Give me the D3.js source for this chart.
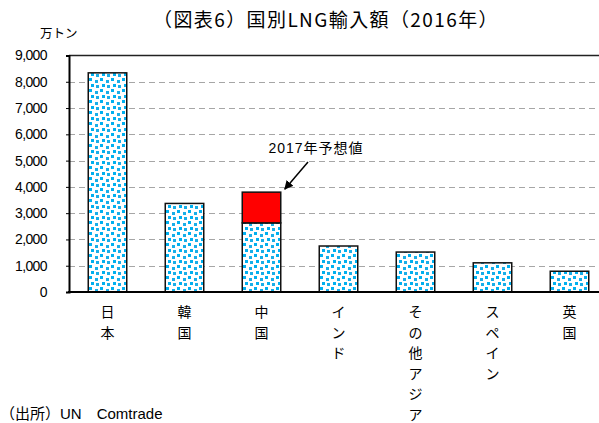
<!DOCTYPE html>
<head>
    <meta charset="utf-8">
    <script src="https://d3js.org/d3.v7.min.js"></script>
</head>
<style>
body {
  margin: 0;
  background: #fff;
  font-family: "Liberation Sans", Arial, "Noto Sans CJK JP", sans-serif;
}
</style>
<body>
    <svg></svg>
</body>

<script>
    // data
    var countries = ["日本", "韓国", "中国", "インド", "その他アジア", "スペイン", "英国"];
    var values2016 = [8340, 3370, 2630, 1750, 1520, 1110, 790];
    var china2017 = 3800;
    var yTicks = [0, 1000, 2000, 3000, 4000, 5000, 6000, 7000, 8000, 9000];

    var width = 599, height = 423;
    var plotLeft = 69, plotTop = 55.5, plotBottom = 292;
    var band = 77;

    var svg = d3.select("svg").attr("width", width).attr("height", height);

    // dotted fill
    var defs = svg.append("defs");
    var pat = defs.append("pattern")
        .attr("id", "dots")
        .attr("patternUnits", "userSpaceOnUse")
        .attr("width", 11).attr("height", 11);
    pat.append("rect").attr("width", 11).attr("height", 11).attr("fill", "#fff");
    var dotPos = [[1, 1], [7, 3], [3, 7], [8, 8]];
    dotPos.forEach(function (p, i) {
        pat.append("rect")
            .attr("x", p[0]).attr("y", p[1])
            .attr("width", 3).attr("height", 3)
            .attr("fill", i % 2 ? "#19aee8" : "#00b0f0");
    });

    var x = d3.scaleBand()
        .domain(countries)
        .range([plotLeft, plotLeft + band * countries.length])
        .paddingInner(0.5).paddingOuter(0.25);

    var y = d3.scaleLinear().domain([0, 9000]).range([plotBottom, plotTop]);

    // title
    svg.append("text")
        .attr("x", 326).attr("y", 27)
        .attr("text-anchor", "middle")
        .style("font-size", "19px")
        .style("letter-spacing", "1.4px")
        .style("font-family", "'Noto Sans CJK JP', sans-serif")
        .text("（図表6）国別LNG輸入額（2016年）");

    svg.append("text")
        .attr("x", 40).attr("y", 38)
        .style("font-size", "12.5px")
        .style("font-family", "'Noto Sans CJK JP', sans-serif")
        .text("万トン");

    // gridlines
    svg.append("g").selectAll("line")
        .data(yTicks.filter(function (d) { return d > 0 && d < 9000; }))
        .enter().append("line")
        .attr("x1", plotLeft).attr("x2", width)
        .attr("y1", function (d) { return Math.round(y(d)) + 0.5; })
        .attr("y2", function (d) { return Math.round(y(d)) + 0.5; })
        .attr("stroke", "#a6a6a6")
        .attr("stroke-width", 1)
        .attr("stroke-dasharray", "6,4");

    // top border
    svg.append("line")
        .attr("x1", plotLeft).attr("x2", width)
        .attr("y1", y(9000)).attr("y2", y(9000))
        .attr("stroke", "#222").attr("stroke-width", 1.5);

    // y axis
    var yAxis = d3.axisLeft(y)
        .tickValues(yTicks)
        .tickSize(3)
        .tickFormat(d3.format(","));
    var ya = svg.append("g")
        .attr("transform", "translate(" + plotLeft + ",0)")
        .call(yAxis);
    ya.select(".domain").attr("stroke", "#000").attr("stroke-width", 2);
    ya.selectAll(".tick line").attr("stroke", "#000");
    ya.selectAll(".tick text")
        .attr("x", -22)
        .style("font-size", "14px")
        .style("letter-spacing", "-0.6px")
        .style("font-family", "'Liberation Sans', Arial, sans-serif")
        .attr("fill", "#000");

    // bars
    svg.append("g").selectAll("rect")
        .data(values2016)
        .enter().append("rect")
        .attr("x", function (d, i) { return x(countries[i]); })
        .attr("width", x.bandwidth())
        .attr("y", function (d) { return y(d); })
        .attr("height", function (d) { return y(0) - y(d); })
        .attr("fill", "url(#dots)")
        .attr("stroke", "#111")
        .attr("stroke-width", 1.5);

    // china 2017 forecast
    svg.append("rect")
        .attr("x", x("中国"))
        .attr("width", x.bandwidth())
        .attr("y", y(china2017))
        .attr("height", y(values2016[2]) - y(china2017))
        .attr("fill", "#ff0000")
        .attr("stroke", "#111")
        .attr("stroke-width", 1.5);

    // x axis line
    svg.append("line")
        .attr("x1", plotLeft - 1).attr("x2", width)
        .attr("y1", plotBottom).attr("y2", plotBottom)
        .attr("stroke", "#000").attr("stroke-width", 2);

    // vertical category labels
    var labels = svg.append("g").selectAll("text")
        .data(countries)
        .enter().append("text")
        .attr("text-anchor", "middle")
        .style("font-size", "14px")
        .style("font-family", "'Noto Sans CJK JP', sans-serif");
    labels.each(function (d) {
        var t = d3.select(this);
        var cx = x(d) + x.bandwidth() / 2;
        d.split("").forEach(function (ch, k) {
            t.append("tspan")
                .attr("x", cx)
                .attr("y", 317 + k * 20.5)
                .text(ch);
        });
    });

    // annotation
    defs.append("marker")
        .attr("id", "arrow")
        .attr("viewBox", "0 0 10 10")
        .attr("refX", 9).attr("refY", 5)
        .attr("markerWidth", 6).attr("markerHeight", 6)
        .attr("orient", "auto")
        .append("path").attr("d", "M0,0L10,5L0,10Z").attr("fill", "#000");

    svg.append("text")
        .attr("x", 316).attr("y", 153)
        .attr("text-anchor", "middle")
        .style("font-size", "14px")
        .style("letter-spacing", "1px")
        .text("2017年予想値");

    svg.append("line")
        .attr("x1", 308).attr("y1", 162)
        .attr("x2", x("中国") + x.bandwidth() + 4).attr("y2", y(china2017) - 3)
        .attr("stroke", "#000").attr("stroke-width", 1.5)
        .attr("marker-end", "url(#arrow)");

    // source
    svg.append("text")
        .attr("x", 0).attr("y", 419)
        .style("font-size", "15px")
        .text("（出所）UN　Comtrade");
</script>
